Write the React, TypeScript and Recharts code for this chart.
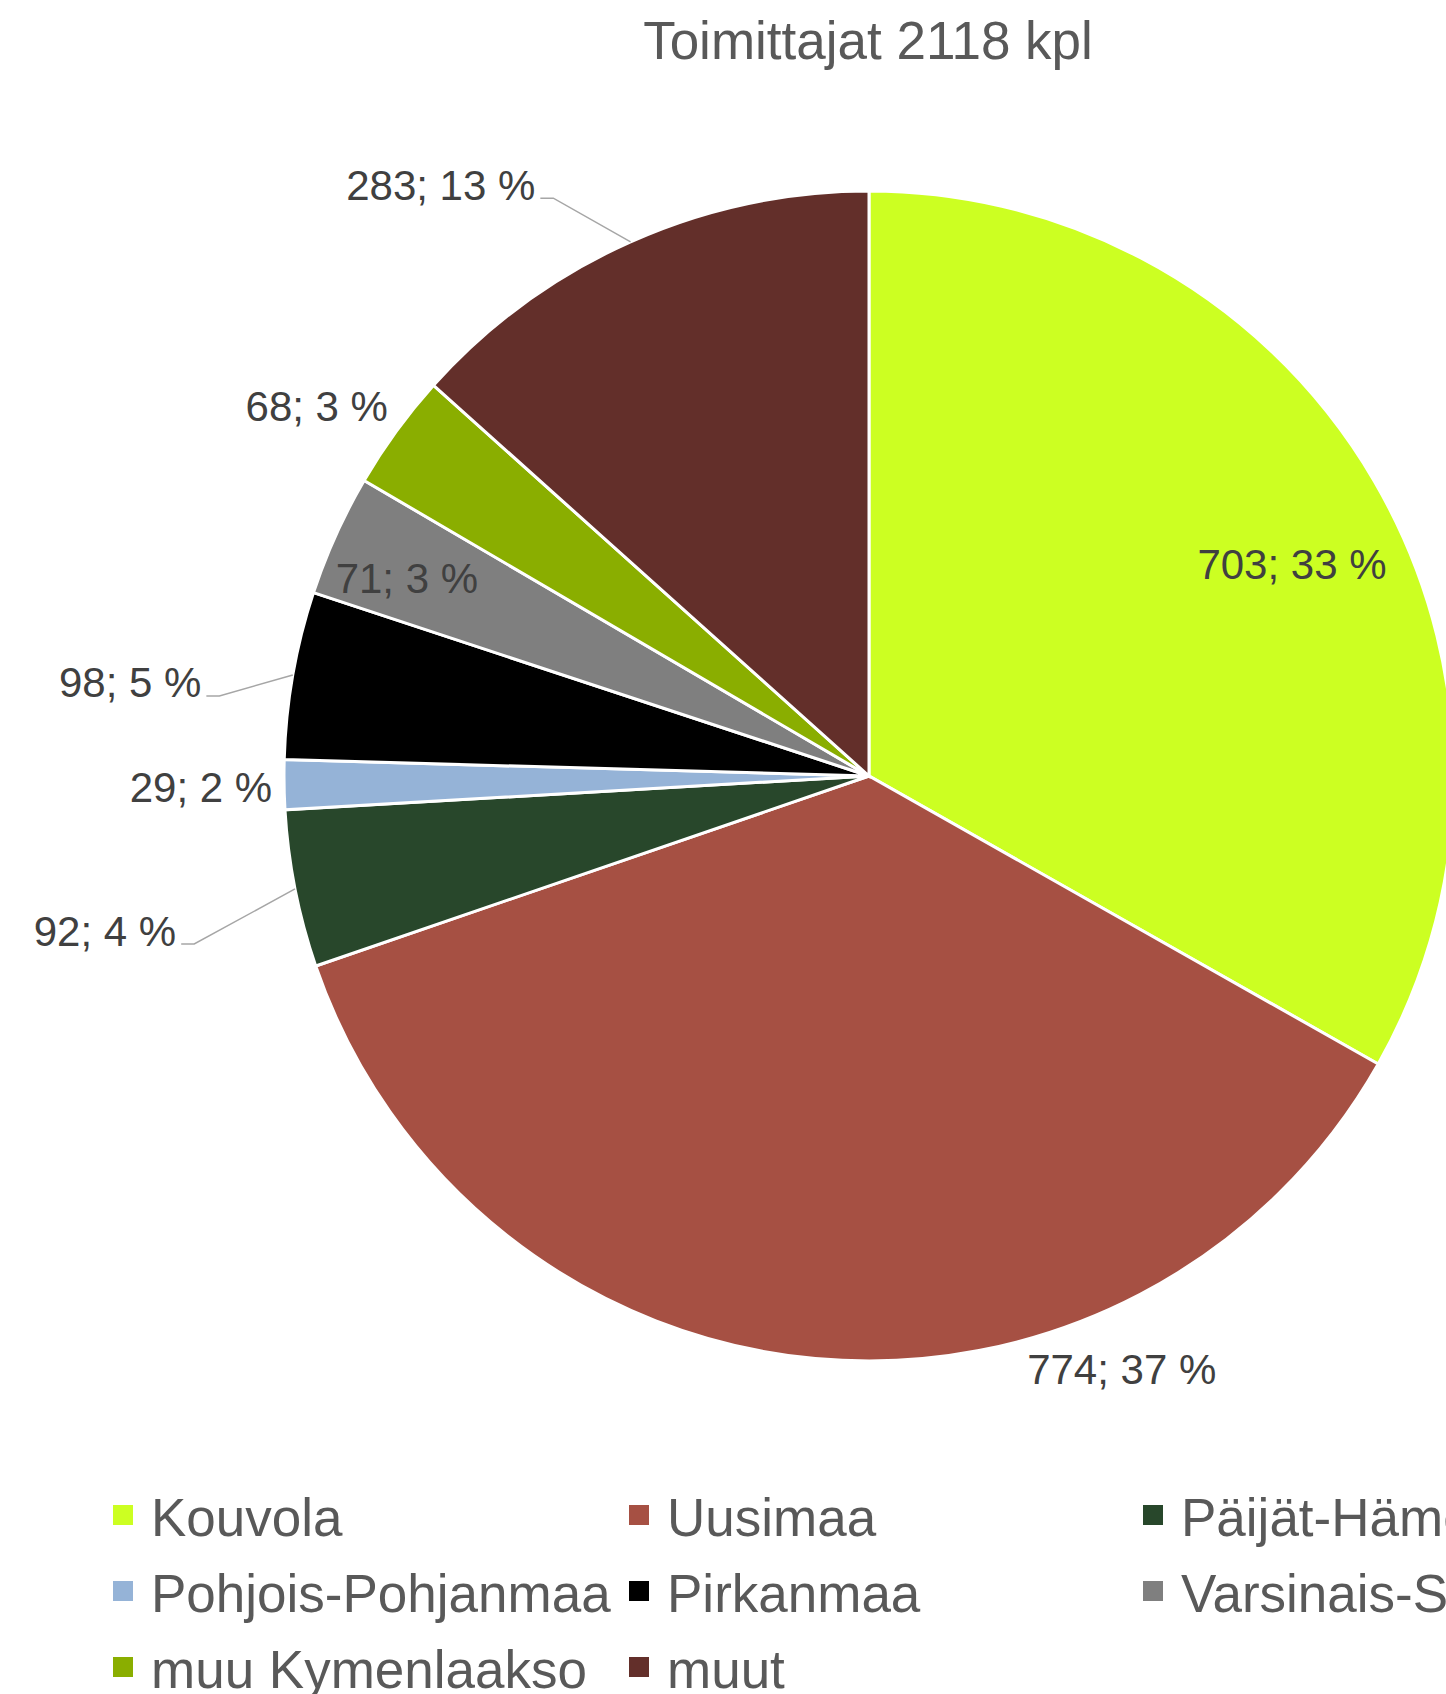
import { PieChart, Pie, Cell, Legend } from "recharts";

const regions = [
  "Kouvola",
  "Uusimaa",
  "Päijät-Häme",
  "Pohjois-Pohjanmaa",
  "Pirkanmaa",
  "Varsinais-Suomi",
  "muu Kymenlaakso",
  "muut",
];
const counts = [703, 774, 92, 29, 98, 71, 68, 283];
const shownPct = [33, 37, 4, 2, 5, 3, 3, 13];
const colors = [
  "#ccff22",
  "#a65043",
  "#28472b",
  "#95b3d7",
  "#000000",
  "#7f7f7f",
  "#8aae00",
  "#632f2a",
];

// label anchor (text centre) relative to pie centre, in units of the radius
const labelPos: [number, number][] = [
  [0.723, -0.362],
  [0.432, 1.014],
  [-1.306, 0.265],
  [-1.142, 0.019],
  [-1.263, -0.159],
  [-0.79, -0.338],
  [-0.944, -0.632],
  [-0.732, -1.01],
];
const withLeader = [false, false, true, false, true, false, false, true];

const W = 1446;
const H = 1694;
const CX = 869;
const CY = 776;
const R = 585;
const LABEL_SIZE = 42;

// rough Arial advance widths, enough to find where a label ends
const textWidth = (s: string, size: number) => {
  let w = 0;
  for (const ch of s) {
    if (ch === "%") w += 0.889;
    else if (ch === ";" || ch === " ") w += 0.278;
    else w += 0.556;
  }
  return w * size;
};

const data = regions.map((name, i) => ({ name, value: counts[i], fill: colors[i] }));

const renderLabel = (props: any) => {
  const { cx, cy, midAngle, outerRadius, index } = props;
  const text = `${counts[index]}; ${shownPct[index]} %`;
  const [fx, fy] = labelPos[index];
  const x = cx + fx * outerRadius;
  const y = cy + fy * outerRadius;
  let line = null;
  if (withLeader[index]) {
    const rad = (-midAngle * Math.PI) / 180;
    const ex = cx + outerRadius * Math.cos(rad);
    const ey = cy + outerRadius * Math.sin(rad);
    const tx = x + textWidth(text, LABEL_SIZE) / 2 + 5;
    const ly = y + 13;
    line = (
      <polyline
        points={`${tx},${ly} ${tx + 13},${ly} ${ex},${ey}`}
        fill="none"
        stroke="#a6a6a6"
        strokeWidth={1.5}
      />
    );
  }
  return (
    <g key={`lbl-${index}`}>
      {line}
      <text
        x={x}
        y={y}
        textAnchor="middle"
        dominantBaseline="central"
        fill="#404040"
        fontSize={LABEL_SIZE}
        fontFamily="'Liberation Sans', Arial, sans-serif"
      >
        {text}
      </text>
    </g>
  );
};

const LegendGrid = () => (
  <div
    style={{
      display: "grid",
      gridTemplateColumns: "516px 514px 400px",
      gridAutoRows: "76px",
      paddingLeft: 113,
      fontFamily: "'Liberation Sans', Arial, sans-serif",
      fontSize: 53,
      color: "#595959",
      whiteSpace: "nowrap",
    }}
  >
    {regions.map((name, i) => (
      <div key={name} style={{ display: "flex", alignItems: "center", lineHeight: "76px" }}>
        <span
          style={{
            display: "inline-block",
            width: 20,
            height: 20,
            background: colors[i],
            marginRight: 18,
            transform: "translateY(-3px)",
            flex: "none",
          }}
        />
        <span>{name}</span>
      </div>
    ))}
  </div>
);

export default function App() {
  return (
    <div
      style={{
        position: "absolute",
        left: 0,
        top: 0,
        width: W,
        height: H,
        overflow: "hidden",
        background: "#fff",
      }}
    >
      <div
        style={{
          position: "absolute",
          top: 14,
          left: 868,
          transform: "translateX(-50%)",
          fontFamily: "'Liberation Sans', Arial, sans-serif",
          fontSize: 53,
          lineHeight: "53px",
          color: "#595959",
          whiteSpace: "nowrap",
        }}
      >
        Toimittajat 2118 kpl
      </div>
      <PieChart width={W} height={H} margin={{ top: 0, right: 0, bottom: 0, left: 0 }}>
        <Pie
          data={data}
          dataKey="value"
          nameKey="name"
          cx={CX}
          cy={CY}
          outerRadius={R}
          startAngle={90}
          endAngle={-270}
          stroke="#ffffff"
          strokeWidth={3}
          label={renderLabel}
          labelLine={false}
          isAnimationActive={false}
        >
          {data.map((d, i) => (
            <Cell key={d.name} fill={colors[i]} />
          ))}
        </Pie>
        <Legend
          content={() => <LegendGrid />}
          wrapperStyle={{ position: "absolute", left: 0, top: 1480, width: W, height: 230 }}
        />
      </PieChart>
    </div>
  );
}
